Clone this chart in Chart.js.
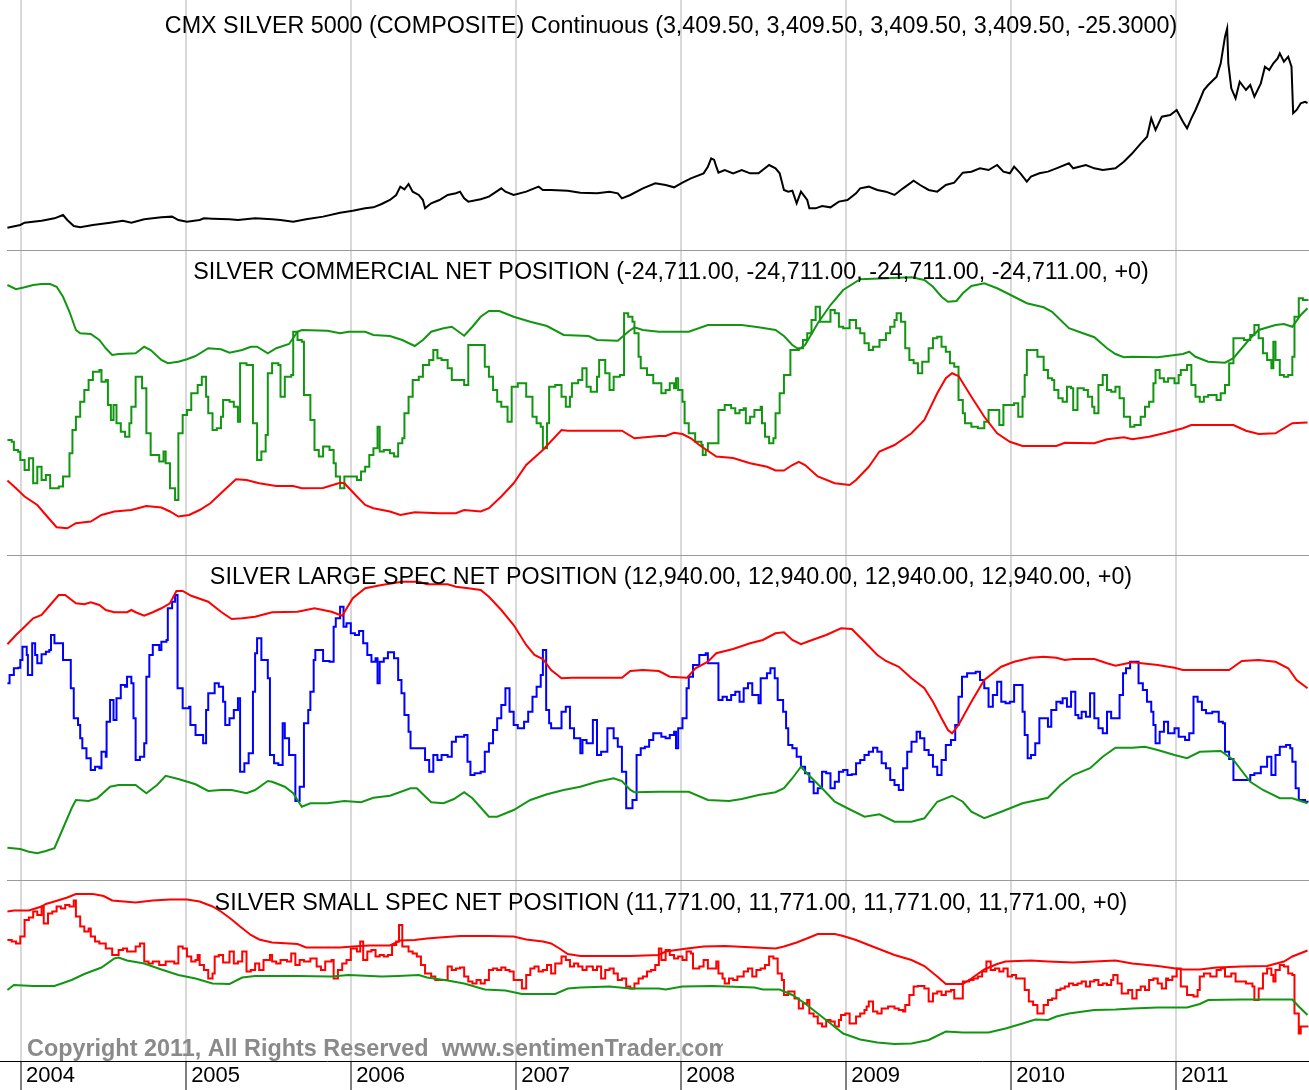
<!DOCTYPE html>
<html>
<head>
<meta charset="utf-8">
<script src="https://cdn.jsdelivr.net/npm/chart.js@4"></script>
<style>
  body { margin: 0; background: #fff; }
  #wrap { position: relative; width: 1309px; height: 1090px; overflow: hidden; }
  canvas { position: absolute; left: 0; }
  .sep { position: absolute; left: 7px; right: 0; height: 1px; background: #9a9a9a; z-index: 2; }
</style>
</head>
<body>
<div id="wrap">
  <canvas id="p1" width="1309" height="250" style="top:0"></canvas>
  <canvas id="p2" width="1309" height="305" style="top:250px"></canvas>
  <canvas id="p3" width="1309" height="325" style="top:555px"></canvas>
  <canvas id="p4" width="1309" height="210" style="top:880px"></canvas>
  <div class="sep" style="top:250px"></div>
  <div class="sep" style="top:555px"></div>
  <div class="sep" style="top:880px"></div>
</div>
<script>
// Axe des temps (années décimales)
const yearTicks = [2004, 2005, 2006, 2007, 2008, 2009, 2010, 2011];
const xMin = 2003.872;
const xMax = 2011.805;

// Titres des panneaux
const titles = [
    'CMX SILVER 5000 (COMPOSITE) Continuous (3,409.50, 3,409.50, 3,409.50, 3,409.50, -25.3000)',
    'SILVER COMMERCIAL NET POSITION (-24,711.00, -24,711.00, -24,711.00, -24,711.00, +0)',
    'SILVER LARGE SPEC NET POSITION (12,940.00, 12,940.00, 12,940.00, 12,940.00, +0)',
    'SILVER SMALL SPEC NET POSITION (11,771.00, 11,771.00, 11,771.00, 11,771.00, +0)'
];
const copyright = 'Copyright 2011, All Rights Reserved  www.sentimenTrader.com';

// Prix argent (cents) [année, valeur]
const silverPrice = [[2003.917,525],[2003.995,587],[2004.021,641],[2004.124,687],[2004.202,741],[2004.254,818],[2004.280,702],[2004.319,564],[2004.358,533],[2004.435,587],[2004.539,641],[2004.617,687],[2004.668,641],[2004.746,718],[2004.850,764],[2004.915,780],[2004.953,702],[2005.005,664],[2005.082,702],[2005.108,741],[2005.160,733],[2005.263,718],[2005.314,702],[2005.418,741],[2005.521,718],[2005.572,702],[2005.649,664],[2005.727,718],[2005.830,780],[2005.933,872],[2006.010,918],[2006.085,972],[2006.135,995],[2006.185,1073],[2006.235,1165],[2006.273,1281],[2006.298,1474],[2006.323,1412],[2006.348,1535],[2006.373,1358],[2006.410,1281],[2006.435,1165],[2006.448,972],[2006.485,1088],[2006.535,1165],[2006.585,1281],[2006.635,1320],[2006.660,1358],[2006.685,1204],[2006.710,1127],[2006.785,1181],[2006.835,1242],[2006.910,1435],[2006.935,1358],[2006.985,1281],[2007.061,1358],[2007.136,1474],[2007.162,1397],[2007.212,1397],[2007.313,1381],[2007.389,1335],[2007.490,1320],[2007.566,1358],[2007.616,1320],[2007.641,1204],[2007.692,1281],[2007.768,1435],[2007.843,1551],[2007.906,1512],[2007.957,1458],[2008.008,1566],[2008.059,1667],[2008.136,1782],[2008.162,1936],[2008.182,2129],[2008.200,2091],[2008.213,1936],[2008.226,1798],[2008.264,1859],[2008.315,1782],[2008.367,1859],[2008.418,1782],[2008.469,1782],[2008.533,1975],[2008.572,1898],[2008.597,1782],[2008.623,1397],[2008.649,1358],[2008.674,1381],[2008.700,1088],[2008.726,1358],[2008.764,1165],[2008.777,972],[2008.815,972],[2008.854,1026],[2008.905,995],[2008.956,1127],[2009.008,1165],[2009.060,1320],[2009.085,1435],[2009.137,1474],[2009.189,1397],[2009.241,1358],[2009.293,1281],[2009.345,1435],[2009.409,1613],[2009.448,1512],[2009.500,1397],[2009.552,1358],[2009.604,1512],[2009.655,1566],[2009.707,1798],[2009.759,1821],[2009.811,1898],[2009.863,1859],[2009.915,1975],[2009.953,1821],[2009.992,1782],[2010.018,1936],[2010.056,1782],[2010.095,1589],[2010.120,1705],[2010.171,1782],[2010.223,1821],[2010.274,1898],[2010.350,2014],[2010.376,1898],[2010.453,1975],[2010.504,1898],[2010.555,1859],[2010.632,1898],[2010.683,2052],[2010.734,2245],[2010.786,2476],[2010.824,2631],[2010.849,3055],[2010.875,2785],[2010.913,3093],[2010.964,3132],[2011.003,3248],[2011.041,2978],[2011.066,2823],[2011.092,3055],[2011.117,3248],[2011.143,3479],[2011.168,3710],[2011.194,3826],[2011.245,4019],[2011.270,4328],[2011.296,4945],[2011.309,5137],[2011.316,4328],[2011.334,3749],[2011.360,3518],[2011.385,3903],[2011.423,3710],[2011.449,3826],[2011.474,3556],[2011.513,3865],[2011.538,4250],[2011.564,4173],[2011.589,4328],[2011.615,4443],[2011.628,4559],[2011.653,4366],[2011.679,4482],[2011.699,4250],[2011.709,3171],[2011.730,3248],[2011.755,3402],[2011.781,3435],[2011.796,3409.5]];

// Commerciaux (milliers de contrats)
const commNet = [[2003.917,-81.0],[2003.943,-81.7],[2003.956,-85.0],[2003.982,-85.7],[2003.995,-89.0],[2004.021,-93.0],[2004.047,-88.3],[2004.073,-98.3],[2004.098,-91.7],[2004.124,-97.0],[2004.150,-95.0],[2004.176,-100.3],[2004.228,-99.6],[2004.254,-95.6],[2004.293,-86.3],[2004.311,-77.0],[2004.332,-71.7],[2004.358,-65.7],[2004.383,-61.0],[2004.409,-57.0],[2004.435,-53.7],[2004.474,-53.0],[2004.487,-57.7],[2004.513,-57.0],[2004.526,-67.0],[2004.544,-73.0],[2004.560,-67.0],[2004.578,-74.3],[2004.604,-77.7],[2004.630,-79.7],[2004.656,-74.3],[2004.668,-67.7],[2004.694,-55.7],[2004.733,-60.3],[2004.759,-78.3],[2004.785,-87.0],[2004.837,-89.6],[2004.863,-85.6],[2004.876,-90.3],[2004.902,-100.3],[2004.933,-105.0],[2004.953,-78.3],[2004.979,-71.0],[2005.005,-69.0],[2005.031,-62.3],[2005.070,-59.0],[2005.095,-55.7],[2005.121,-63.7],[2005.134,-70.3],[2005.160,-77.0],[2005.186,-76.3],[2005.211,-71.7],[2005.224,-65.0],[2005.263,-65.7],[2005.289,-67.7],[2005.314,-73.7],[2005.327,-50.3],[2005.366,-51.0],[2005.405,-74.3],[2005.430,-89.0],[2005.456,-85.6],[2005.482,-79.0],[2005.495,-54.3],[2005.521,-50.3],[2005.559,-51.0],[2005.572,-63.7],[2005.598,-55.7],[2005.637,-55.0],[2005.649,-37.7],[2005.675,-41.0],[2005.701,-41.7],[2005.714,-63.0],[2005.753,-73.0],[2005.778,-85.0],[2005.804,-87.6],[2005.830,-83.6],[2005.869,-85.0],[2005.894,-90.3],[2005.907,-95.6],[2005.933,-100.3],[2005.959,-95.6],[2006.035,-97.0],[2006.060,-93.6],[2006.085,-91.7],[2006.110,-87.0],[2006.135,-84.3],[2006.160,-75.7],[2006.173,-85.6],[2006.198,-85.0],[2006.235,-86.3],[2006.260,-87.6],[2006.285,-82.3],[2006.310,-80.3],[2006.323,-70.3],[2006.348,-63.7],[2006.373,-57.0],[2006.410,-55.7],[2006.435,-51.0],[2006.473,-49.0],[2006.498,-45.0],[2006.523,-48.3],[2006.548,-49.0],[2006.585,-52.3],[2006.610,-57.0],[2006.648,-57.0],[2006.685,-59.0],[2006.710,-43.0],[2006.785,-43.0],[2006.810,-51.7],[2006.835,-55.7],[2006.860,-61.0],[2006.885,-65.7],[2006.910,-67.7],[2006.948,-73.7],[2006.973,-59.7],[2007.010,-58.3],[2007.035,-58.3],[2007.061,-63.7],[2007.099,-71.7],[2007.124,-74.3],[2007.149,-75.7],[2007.162,-84.3],[2007.187,-74.3],[2007.200,-59.7],[2007.237,-59.0],[2007.275,-63.7],[2007.301,-67.7],[2007.326,-63.7],[2007.338,-58.3],[2007.376,-57.0],[2007.401,-52.3],[2007.427,-59.7],[2007.452,-61.7],[2007.490,-55.7],[2007.503,-49.0],[2007.540,-54.3],[2007.566,-61.0],[2007.591,-55.7],[2007.629,-55.0],[2007.654,-30.3],[2007.679,-31.7],[2007.705,-33.7],[2007.717,-38.3],[2007.742,-47.7],[2007.755,-52.3],[2007.793,-55.0],[2007.831,-58.3],[2007.880,-62.3],[2007.906,-61.0],[2007.931,-58.3],[2007.957,-60.3],[2007.969,-56.3],[2007.982,-61.0],[2008.008,-65.7],[2008.021,-74.3],[2008.046,-78.3],[2008.085,-81.7],[2008.123,-83.0],[2008.131,-87.0],[2008.149,-85.0],[2008.162,-82.3],[2008.213,-82.3],[2008.226,-69.0],[2008.264,-67.0],[2008.303,-68.3],[2008.328,-70.3],[2008.354,-69.0],[2008.379,-68.3],[2008.392,-74.3],[2008.418,-71.7],[2008.444,-69.0],[2008.482,-67.7],[2008.490,-74.3],[2008.508,-79.7],[2008.533,-82.3],[2008.559,-80.3],[2008.572,-70.3],[2008.597,-62.3],[2008.623,-55.0],[2008.662,-45.0],[2008.713,-44.3],[2008.738,-41.0],[2008.764,-38.3],[2008.790,-33.0],[2008.815,-27.7],[2008.841,-33.7],[2008.879,-33.7],[2008.905,-29.0],[2008.931,-30.3],[2008.956,-35.7],[2008.982,-36.3],[2009.021,-33.0],[2009.060,-36.3],[2009.085,-38.3],[2009.111,-42.3],[2009.137,-45.0],[2009.163,-43.7],[2009.202,-41.0],[2009.241,-38.3],[2009.267,-35.7],[2009.293,-33.0],[2009.306,-30.3],[2009.332,-33.7],[2009.358,-44.3],[2009.383,-49.0],[2009.409,-50.3],[2009.435,-54.3],[2009.461,-49.7],[2009.500,-44.3],[2009.526,-40.3],[2009.552,-39.7],[2009.578,-43.7],[2009.604,-45.7],[2009.629,-50.3],[2009.655,-51.7],[2009.681,-65.0],[2009.707,-70.3],[2009.720,-74.3],[2009.759,-75.7],[2009.798,-76.3],[2009.837,-73.7],[2009.863,-69.0],[2009.902,-69.0],[2009.928,-75.0],[2009.953,-67.0],[2010.018,-66.3],[2010.043,-71.7],[2010.069,-63.7],[2010.082,-55.0],[2010.095,-45.0],[2010.133,-45.0],[2010.159,-47.7],[2010.197,-53.0],[2010.223,-56.3],[2010.248,-57.0],[2010.261,-61.0],[2010.286,-64.3],[2010.312,-65.7],[2010.338,-59.7],[2010.363,-60.3],[2010.376,-69.0],[2010.402,-60.3],[2010.440,-61.0],[2010.465,-63.7],[2010.491,-67.7],[2010.504,-70.3],[2010.529,-59.0],[2010.555,-55.0],[2010.581,-61.0],[2010.606,-61.7],[2010.632,-59.7],[2010.657,-64.3],[2010.683,-71.7],[2010.721,-75.7],[2010.747,-75.0],[2010.785,-71.7],[2010.811,-67.7],[2010.836,-65.7],[2010.862,-58.3],[2010.875,-53.0],[2010.900,-56.3],[2010.926,-57.7],[2010.951,-56.3],[2010.990,-58.3],[2011.015,-55.0],[2011.028,-53.0],[2011.066,-51.0],[2011.092,-59.0],[2011.117,-63.7],[2011.143,-65.7],[2011.168,-63.7],[2011.194,-63.0],[2011.245,-65.0],[2011.270,-62.3],[2011.296,-59.0],[2011.321,-50.3],[2011.347,-40.3],[2011.385,-40.3],[2011.411,-41.0],[2011.449,-39.0],[2011.474,-35.0],[2011.500,-40.3],[2011.526,-46.3],[2011.551,-49.0],[2011.577,-52.3],[2011.589,-41.7],[2011.602,-49.0],[2011.628,-55.0],[2011.653,-55.7],[2011.679,-55.0],[2011.704,-47.7],[2011.717,-31.7],[2011.743,-24.3],[2011.768,-25.0],[2011.796,-24.711]];
const commUpper = [[2003.917,-19.0],[2003.969,-20.7],[2004.021,-19.9],[2004.073,-19.0],[2004.124,-18.6],[2004.176,-18.6],[2004.215,-19.7],[2004.254,-23.7],[2004.293,-29.7],[2004.332,-37.0],[2004.358,-38.3],[2004.422,-38.6],[2004.474,-41.0],[2004.513,-44.3],[2004.552,-47.0],[2004.591,-46.6],[2004.694,-46.3],[2004.746,-43.7],[2004.785,-45.0],[2004.850,-49.0],[2004.889,-50.3],[2004.953,-49.7],[2005.005,-48.7],[2005.057,-47.4],[2005.134,-44.3],[2005.211,-44.7],[2005.263,-46.1],[2005.340,-45.0],[2005.392,-43.7],[2005.430,-43.7],[2005.495,-46.3],[2005.546,-44.3],[2005.624,-42.6],[2005.675,-37.7],[2005.701,-37.0],[2005.856,-37.3],[2005.933,-38.3],[2005.985,-37.7],[2006.085,-37.7],[2006.135,-39.0],[2006.235,-39.4],[2006.310,-41.0],[2006.385,-43.4],[2006.435,-41.0],[2006.485,-37.7],[2006.560,-36.3],[2006.610,-35.7],[2006.685,-39.3],[2006.735,-35.7],[2006.785,-31.7],[2006.835,-29.4],[2006.898,-29.4],[2006.985,-31.7],[2007.086,-33.7],[2007.187,-35.4],[2007.288,-39.0],[2007.439,-39.4],[2007.490,-41.0],[2007.616,-41.3],[2007.679,-37.7],[2007.717,-35.9],[2007.768,-37.0],[2007.865,-37.7],[2008.046,-37.7],[2008.162,-35.0],[2008.367,-35.0],[2008.469,-35.9],[2008.572,-37.0],[2008.623,-39.4],[2008.674,-43.0],[2008.713,-44.7],[2008.751,-43.0],[2008.828,-34.3],[2008.905,-27.0],[2008.982,-21.0],[2009.085,-16.7],[2009.241,-16.3],[2009.397,-15.9],[2009.474,-17.0],[2009.526,-19.7],[2009.578,-23.7],[2009.617,-25.7],[2009.669,-25.4],[2009.707,-22.3],[2009.759,-19.4],[2009.837,-18.3],[2009.915,-20.3],[2010.018,-23.7],[2010.095,-26.3],[2010.197,-27.9],[2010.248,-29.7],[2010.350,-36.3],[2010.427,-38.1],[2010.504,-39.9],[2010.581,-44.3],[2010.632,-46.6],[2010.683,-47.9],[2010.734,-47.7],[2010.888,-47.9],[2011.041,-46.6],[2011.079,-45.7],[2011.117,-47.7],[2011.194,-49.7],[2011.296,-50.1],[2011.347,-48.3],[2011.449,-40.3],[2011.500,-37.0],[2011.602,-35.0],[2011.653,-34.6],[2011.704,-35.7],[2011.755,-31.0],[2011.796,-28.3]];
const commLower = [[2003.917,-97.2],[2003.969,-100.3],[2004.021,-103.6],[2004.098,-107.0],[2004.150,-111.0],[2004.215,-115.9],[2004.280,-116.3],[2004.332,-114.3],[2004.422,-113.6],[2004.487,-111.0],[2004.565,-109.6],[2004.668,-109.0],[2004.759,-107.4],[2004.850,-108.0],[2004.902,-109.6],[2004.953,-111.6],[2005.018,-111.0],[2005.082,-109.0],[2005.147,-106.3],[2005.211,-102.3],[2005.302,-96.7],[2005.366,-97.0],[2005.443,-98.3],[2005.546,-99.4],[2005.649,-99.4],[2005.701,-100.3],[2005.830,-100.2],[2005.933,-98.1],[2005.959,-98.3],[2006.035,-103.6],[2006.085,-107.0],[2006.135,-108.3],[2006.235,-109.6],[2006.298,-111.0],[2006.385,-109.9],[2006.535,-110.3],[2006.635,-110.3],[2006.685,-109.0],[2006.785,-109.6],[2006.835,-108.3],[2006.910,-103.6],[2006.985,-98.3],[2007.061,-91.0],[2007.162,-85.0],[2007.275,-77.0],[2007.313,-77.3],[2007.641,-77.3],[2007.717,-80.3],[2007.865,-79.4],[2007.906,-79.4],[2007.957,-78.1],[2008.008,-78.6],[2008.059,-80.3],[2008.110,-83.0],[2008.213,-87.6],[2008.315,-88.2],[2008.418,-90.3],[2008.521,-91.7],[2008.572,-93.2],[2008.623,-93.2],[2008.674,-91.0],[2008.713,-89.7],[2008.751,-91.0],[2008.828,-95.6],[2008.931,-98.3],[2009.021,-99.0],[2009.060,-97.0],[2009.137,-91.7],[2009.202,-85.6],[2009.293,-83.0],[2009.396,-78.3],[2009.474,-73.0],[2009.552,-62.3],[2009.604,-56.3],[2009.642,-54.3],[2009.681,-55.4],[2009.759,-63.7],[2009.837,-71.7],[2009.915,-78.3],[2009.992,-81.7],[2010.069,-83.4],[2010.274,-83.4],[2010.325,-82.1],[2010.504,-82.3],[2010.581,-80.7],[2010.683,-79.9],[2010.734,-80.7],[2010.836,-79.7],[2010.939,-78.1],[2011.041,-76.3],[2011.092,-75.0],[2011.347,-75.0],[2011.423,-77.3],[2011.500,-78.6],[2011.602,-78.3],[2011.704,-74.3],[2011.796,-74.0]];

// Grands spéculateurs (milliers de contrats)
const largeNet = [[2003.917,60.7],[2003.930,64.0],[2003.956,66.7],[2003.982,66.9],[2003.995,70.0],[2004.008,75.3],[2004.034,72.0],[2004.041,64.0],[2004.052,64.0],[2004.067,76.7],[2004.085,72.0],[2004.098,68.7],[2004.124,72.3],[2004.150,73.3],[2004.171,74.0],[2004.181,80.0],[2004.202,76.7],[2004.249,76.7],[2004.254,70.0],[2004.285,70.0],[2004.301,58.7],[2004.319,46.7],[2004.345,44.0],[2004.358,38.7],[2004.371,34.7],[2004.396,30.7],[2004.422,26.0],[2004.448,27.3],[2004.474,26.7],[2004.487,33.3],[2004.513,31.3],[2004.518,45.3],[2004.539,54.0],[2004.560,46.0],[2004.578,54.7],[2004.604,60.0],[2004.630,59.3],[2004.642,63.3],[2004.668,60.7],[2004.681,46.7],[2004.694,30.0],[2004.720,31.3],[2004.746,36.7],[2004.759,63.3],[2004.777,72.0],[2004.798,76.0],[2004.837,74.0],[2004.850,77.3],[2004.881,78.0],[2004.889,90.7],[2004.915,93.3],[2004.933,96.0],[2004.948,58.7],[2004.979,50.7],[2005.018,51.3],[2005.026,44.0],[2005.057,40.0],[2005.103,36.7],[2005.121,50.0],[2005.134,56.7],[2005.173,60.7],[2005.198,59.3],[2005.224,53.3],[2005.237,44.0],[2005.263,46.7],[2005.289,50.0],[2005.314,54.7],[2005.327,25.3],[2005.353,28.7],[2005.379,32.7],[2005.405,57.3],[2005.418,72.7],[2005.430,78.7],[2005.456,70.0],[2005.495,62.7],[2005.508,32.0],[2005.533,28.7],[2005.559,28.0],[2005.585,44.7],[2005.598,38.7],[2005.624,32.0],[2005.649,32.0],[2005.662,13.6],[2005.688,19.3],[2005.714,44.7],[2005.740,50.0],[2005.753,57.3],[2005.773,70.0],[2005.783,74.0],[2005.817,74.0],[2005.830,69.6],[2005.869,69.3],[2005.894,83.3],[2005.907,86.7],[2005.933,91.3],[2005.954,83.3],[2005.972,84.7],[2005.998,80.7],[2006.023,80.0],[2006.048,81.6],[2006.073,76.7],[2006.098,72.0],[2006.123,69.3],[2006.148,70.7],[2006.160,60.7],[2006.173,69.3],[2006.198,70.7],[2006.223,73.1],[2006.260,70.7],[2006.285,62.0],[2006.305,56.7],[2006.323,48.0],[2006.348,41.3],[2006.360,34.7],[2006.423,34.7],[2006.448,30.0],[2006.473,25.3],[2006.498,32.0],[2006.523,30.0],[2006.548,32.0],[2006.585,31.3],[2006.610,37.3],[2006.635,39.3],[2006.685,40.0],[2006.705,29.3],[2006.723,24.0],[2006.748,24.7],[2006.785,25.3],[2006.810,33.3],[2006.835,36.7],[2006.860,42.0],[2006.885,46.7],[2006.910,52.0],[2006.935,58.7],[2006.960,49.3],[2006.985,44.0],[2007.010,42.7],[2007.048,45.3],[2007.073,49.3],[2007.099,55.3],[2007.124,59.3],[2007.149,64.0],[2007.162,74.0],[2007.182,50.0],[2007.200,44.7],[2007.212,42.7],[2007.250,42.7],[2007.275,49.3],[2007.301,51.3],[2007.326,42.7],[2007.351,38.7],[2007.389,32.7],[2007.402,38.0],[2007.427,36.7],[2007.465,46.0],[2007.490,32.0],[2007.515,33.3],[2007.553,42.7],[2007.591,38.7],[2007.616,35.3],[2007.641,25.3],[2007.667,10.7],[2007.705,14.0],[2007.730,32.0],[2007.755,34.7],[2007.780,35.3],[2007.806,38.0],[2007.831,40.7],[2007.880,39.3],[2007.906,38.7],[2007.931,40.0],[2007.957,41.3],[2007.969,34.7],[2007.982,42.7],[2008.008,46.7],[2008.033,58.7],[2008.046,63.3],[2008.072,68.0],[2008.110,72.0],[2008.149,72.7],[2008.162,68.7],[2008.200,68.7],[2008.226,54.0],[2008.251,55.3],[2008.277,54.0],[2008.303,56.0],[2008.328,57.3],[2008.354,53.3],[2008.379,58.7],[2008.405,60.7],[2008.431,56.0],[2008.469,52.7],[2008.482,62.7],[2008.520,64.7],[2008.541,66.7],[2008.567,62.7],[2008.585,54.0],[2008.618,49.3],[2008.636,42.7],[2008.649,36.0],[2008.674,34.7],[2008.700,31.3],[2008.726,27.3],[2008.751,24.7],[2008.777,21.3],[2008.803,16.7],[2008.828,18.7],[2008.854,25.3],[2008.879,24.7],[2008.905,18.7],[2008.931,21.3],[2008.956,25.3],[2008.982,26.0],[2009.008,24.0],[2009.034,24.3],[2009.060,28.7],[2009.085,30.0],[2009.111,32.0],[2009.137,33.3],[2009.163,34.9],[2009.189,33.3],[2009.215,28.7],[2009.241,26.7],[2009.267,22.0],[2009.293,20.0],[2009.319,18.0],[2009.345,26.7],[2009.370,33.3],[2009.396,37.3],[2009.427,41.3],[2009.448,38.7],[2009.474,34.0],[2009.500,32.0],[2009.526,27.3],[2009.552,24.0],[2009.578,30.0],[2009.604,36.0],[2009.635,38.0],[2009.661,44.0],[2009.681,55.3],[2009.702,63.3],[2009.733,64.7],[2009.785,65.3],[2009.811,62.0],[2009.837,58.7],[2009.863,51.3],[2009.889,56.0],[2009.915,61.3],[2009.940,53.3],[2009.966,52.7],[2009.992,53.3],[2010.018,60.0],[2010.056,60.0],[2010.069,49.3],[2010.082,40.0],[2010.100,30.7],[2010.120,32.0],[2010.146,36.7],[2010.171,46.7],[2010.210,46.7],[2010.223,43.3],[2010.243,50.0],[2010.274,53.3],[2010.299,52.7],[2010.312,54.7],[2010.338,51.3],[2010.363,57.3],[2010.389,48.0],[2010.407,46.7],[2010.427,49.3],[2010.453,47.3],[2010.478,56.7],[2010.504,46.7],[2010.529,42.7],[2010.555,40.7],[2010.581,49.3],[2010.606,46.7],[2010.645,46.7],[2010.657,56.0],[2010.678,64.7],[2010.696,66.7],[2010.721,69.3],[2010.747,69.3],[2010.772,60.7],[2010.798,58.0],[2010.823,53.3],[2010.849,49.3],[2010.862,44.0],[2010.875,36.7],[2010.900,41.3],[2010.926,45.3],[2010.951,40.7],[2010.990,42.7],[2011.015,39.3],[2011.054,38.0],[2011.079,40.7],[2011.105,55.3],[2011.130,53.3],[2011.156,50.0],[2011.181,48.7],[2011.219,49.3],[2011.258,45.3],[2011.283,44.7],[2011.296,33.3],[2011.321,30.4],[2011.347,22.0],[2011.411,22.0],[2011.449,24.0],[2011.474,24.7],[2011.513,27.3],[2011.551,31.3],[2011.577,24.0],[2011.602,32.0],[2011.628,35.3],[2011.666,36.0],[2011.691,34.7],[2011.704,29.3],[2011.724,18.7],[2011.743,14.0],[2011.781,13.3],[2011.796,12.94]];
const largeUpper = [[2003.917,76.3],[2003.969,80.0],[2004.021,83.3],[2004.073,86.7],[2004.124,88.0],[2004.176,92.0],[2004.228,96.0],[2004.267,96.0],[2004.332,92.7],[2004.383,92.3],[2004.422,93.1],[2004.474,92.0],[2004.513,90.0],[2004.565,89.1],[2004.642,89.1],[2004.668,90.0],[2004.694,89.1],[2004.746,87.7],[2004.798,89.1],[2004.850,90.7],[2004.902,92.7],[2004.941,97.6],[2004.979,97.6],[2005.031,95.7],[2005.134,93.3],[2005.211,89.3],[2005.276,86.4],[2005.340,86.7],[2005.418,87.3],[2005.521,89.1],[2005.675,89.3],[2005.778,90.7],[2005.830,90.0],[2005.881,89.3],[2005.946,87.7],[2006.010,94.7],[2006.085,98.7],[2006.185,100.0],[2006.310,101.3],[2006.410,101.3],[2006.460,100.3],[2006.585,100.3],[2006.635,99.3],[2006.710,98.7],[2006.785,98.0],[2006.835,95.3],[2006.910,90.0],[2006.985,84.0],[2007.061,76.0],[2007.111,72.0],[2007.162,70.4],[2007.212,66.0],[2007.275,62.7],[2007.338,62.9],[2007.641,62.9],[2007.692,65.6],[2007.768,66.0],[2007.865,65.6],[2007.931,63.3],[2008.036,62.9],[2008.087,66.7],[2008.162,69.3],[2008.213,72.7],[2008.315,74.4],[2008.418,76.7],[2008.495,78.0],[2008.572,80.7],[2008.623,81.1],[2008.674,78.0],[2008.726,76.3],[2008.777,77.6],[2008.879,80.0],[2008.969,82.7],[2009.034,82.4],[2009.111,77.3],[2009.189,72.0],[2009.241,69.6],[2009.319,67.3],[2009.396,62.7],[2009.474,58.7],[2009.526,53.3],[2009.578,46.7],[2009.617,42.0],[2009.642,40.7],[2009.681,44.0],[2009.759,53.3],[2009.837,62.0],[2009.940,67.3],[2010.018,69.3],[2010.120,70.9],[2010.197,71.3],[2010.274,70.9],[2010.325,70.0],[2010.376,70.4],[2010.504,70.4],[2010.581,68.7],[2010.632,67.7],[2010.734,69.1],[2010.888,68.0],[2010.990,66.9],[2011.041,66.0],[2011.321,66.0],[2011.398,69.6],[2011.500,70.0],[2011.602,69.3],[2011.679,66.7],[2011.730,62.0],[2011.796,58.7]];
const largeLower = [[2003.917,-5.1],[2003.995,-5.6],[2004.047,-6.7],[2004.098,-7.3],[2004.150,-6.4],[2004.202,-5.3],[2004.254,2.7],[2004.306,10.7],[2004.332,14.0],[2004.409,13.6],[2004.461,14.7],[2004.539,19.3],[2004.591,20.0],[2004.694,20.0],[2004.759,16.7],[2004.824,20.0],[2004.876,23.7],[2004.953,22.4],[2005.057,20.3],[2005.134,17.6],[2005.211,18.0],[2005.276,18.0],[2005.366,16.7],[2005.418,18.0],[2005.495,21.6],[2005.521,21.3],[2005.598,19.3],[2005.649,16.7],[2005.701,11.3],[2005.753,12.7],[2005.856,12.7],[2005.959,13.6],[2006.060,13.1],[2006.135,14.9],[2006.235,15.7],[2006.360,18.7],[2006.398,18.7],[2006.485,13.1],[2006.560,12.7],[2006.623,14.4],[2006.685,17.1],[2006.735,14.7],[2006.835,7.3],[2006.885,7.3],[2006.985,10.0],[2007.086,14.0],[2007.187,16.3],[2007.288,18.0],[2007.389,19.3],[2007.490,21.3],[2007.591,22.7],[2007.641,21.6],[2007.692,18.0],[2007.717,17.1],[2007.865,17.3],[2008.046,17.3],[2008.162,14.0],[2008.290,13.6],[2008.367,14.4],[2008.469,16.0],[2008.572,17.1],[2008.623,18.7],[2008.674,22.7],[2008.726,27.3],[2008.777,23.7],[2008.854,18.7],[2008.931,13.3],[2009.008,10.7],[2009.111,7.3],[2009.202,8.3],[2009.293,5.3],[2009.396,5.3],[2009.474,6.7],[2009.552,13.3],[2009.642,15.7],[2009.707,13.3],[2009.759,9.3],[2009.837,6.7],[2009.940,9.3],[2010.069,12.7],[2010.223,14.9],[2010.299,20.0],[2010.376,24.0],[2010.478,26.7],[2010.555,31.3],[2010.632,34.9],[2010.734,34.9],[2010.811,35.3],[2010.888,34.0],[2010.990,32.0],[2011.066,30.7],[2011.143,33.3],[2011.270,33.6],[2011.347,30.0],[2011.449,21.3],[2011.526,18.0],[2011.628,14.7],[2011.704,14.7],[2011.796,12.7]];

// Petits spéculateurs (milliers de contrats)
const smallNet = [[2003.917,29.2],[2003.943,28.9],[2003.969,28.5],[2003.995,29.9],[2004.021,33.2],[2004.047,33.7],[2004.073,34.9],[2004.098,34.2],[2004.124,35.9],[2004.137,32.5],[2004.163,34.5],[2004.189,34.9],[2004.215,35.9],[2004.241,35.5],[2004.267,36.2],[2004.293,35.9],[2004.319,37.1],[2004.332,33.9],[2004.358,31.9],[2004.383,30.9],[2004.409,31.5],[2004.422,29.9],[2004.448,28.9],[2004.474,28.5],[2004.513,27.5],[2004.552,26.2],[2004.591,27.2],[2004.617,27.5],[2004.642,26.9],[2004.694,27.9],[2004.720,28.5],[2004.746,24.9],[2004.772,24.5],[2004.798,24.9],[2004.837,24.2],[2004.876,24.9],[2004.928,24.5],[2004.953,27.9],[2004.979,27.5],[2005.005,25.9],[2005.031,24.9],[2005.057,25.2],[2005.070,26.2],[2005.082,24.2],[2005.108,23.2],[2005.134,21.5],[2005.160,22.5],[2005.173,25.9],[2005.198,26.2],[2005.224,24.7],[2005.263,26.9],[2005.289,24.5],[2005.314,24.9],[2005.340,26.9],[2005.366,22.9],[2005.392,23.2],[2005.418,24.5],[2005.443,23.2],[2005.469,25.2],[2005.508,26.2],[2005.521,24.9],[2005.546,24.5],[2005.572,25.2],[2005.611,24.9],[2005.637,26.5],[2005.662,24.2],[2005.688,25.2],[2005.714,24.9],[2005.753,25.5],[2005.791,23.9],[2005.817,23.2],[2005.843,24.9],[2005.881,25.2],[2005.894,21.5],[2005.920,23.2],[2005.946,24.5],[2005.972,25.2],[2005.998,27.5],[2006.035,26.9],[2006.055,28.9],[2006.073,25.2],[2006.098,26.9],[2006.123,27.2],[2006.148,25.9],[2006.173,26.2],[2006.198,25.9],[2006.223,26.2],[2006.248,28.2],[2006.273,28.9],[2006.290,32.2],[2006.310,27.9],[2006.348,26.9],[2006.373,26.5],[2006.398,25.9],[2006.423,24.2],[2006.448,22.5],[2006.485,21.9],[2006.510,21.2],[2006.535,21.2],[2006.585,23.9],[2006.610,23.2],[2006.635,23.5],[2006.660,23.7],[2006.685,21.9],[2006.710,20.9],[2006.735,20.5],[2006.760,21.2],[2006.785,20.5],[2006.810,21.2],[2006.835,23.2],[2006.860,23.5],[2006.885,23.2],[2006.910,23.7],[2006.935,23.2],[2006.960,22.9],[2006.985,21.2],[2007.010,21.2],[2007.035,19.5],[2007.061,22.2],[2007.086,23.5],[2007.111,23.9],[2007.136,22.9],[2007.162,23.2],[2007.187,24.2],[2007.212,22.5],[2007.237,24.5],[2007.275,25.9],[2007.301,25.2],[2007.326,23.9],[2007.351,24.5],[2007.376,23.9],[2007.402,23.2],[2007.427,23.9],[2007.465,23.2],[2007.490,23.9],[2007.515,21.5],[2007.540,23.2],[2007.566,23.5],[2007.591,22.5],[2007.616,21.2],[2007.641,21.5],[2007.667,19.9],[2007.692,19.5],[2007.717,20.5],[2007.742,21.5],[2007.768,21.9],[2007.793,22.9],[2007.818,23.2],[2007.843,24.2],[2007.865,27.5],[2007.880,25.2],[2007.906,27.2],[2007.931,26.2],[2007.957,25.5],[2007.982,25.9],[2008.008,25.2],[2008.033,26.9],[2008.059,26.5],[2008.072,23.5],[2008.110,23.9],[2008.136,25.2],[2008.162,23.5],[2008.187,23.5],[2008.213,24.9],[2008.226,22.5],[2008.251,21.5],[2008.264,20.5],[2008.290,21.5],[2008.315,21.2],[2008.341,21.9],[2008.379,22.9],[2008.405,23.5],[2008.431,21.9],[2008.456,23.2],[2008.482,23.5],[2008.508,24.2],[2008.533,25.9],[2008.559,25.5],[2008.585,22.5],[2008.610,21.2],[2008.623,18.2],[2008.649,18.9],[2008.687,17.5],[2008.713,15.5],[2008.738,16.5],[2008.764,17.2],[2008.777,14.5],[2008.803,13.9],[2008.828,12.5],[2008.854,11.9],[2008.879,13.2],[2008.905,12.9],[2008.931,11.9],[2008.956,13.2],[2008.969,14.2],[2008.995,14.5],[2009.021,12.5],[2009.060,13.9],[2009.085,14.5],[2009.111,15.2],[2009.124,15.9],[2009.137,16.9],[2009.163,14.9],[2009.189,14.5],[2009.215,15.5],[2009.254,15.9],[2009.293,15.5],[2009.319,15.2],[2009.345,14.9],[2009.358,16.2],[2009.383,18.2],[2009.409,19.9],[2009.435,20.0],[2009.474,19.5],[2009.500,16.9],[2009.526,18.5],[2009.552,18.9],[2009.578,18.2],[2009.604,18.9],[2009.635,19.2],[2009.655,17.5],[2009.681,17.5],[2009.707,20.9],[2009.746,21.2],[2009.772,21.5],[2009.798,21.9],[2009.824,22.9],[2009.850,24.9],[2009.876,23.2],[2009.902,23.5],[2009.928,22.9],[2009.953,23.5],[2009.979,21.9],[2010.005,22.2],[2010.030,21.5],[2010.056,21.5],[2010.082,19.2],[2010.107,16.9],[2010.133,16.2],[2010.159,14.5],[2010.184,14.5],[2010.197,16.2],[2010.223,17.2],[2010.248,17.5],[2010.274,19.2],[2010.299,19.5],[2010.325,19.9],[2010.350,20.5],[2010.376,20.2],[2010.402,20.5],[2010.427,20.9],[2010.453,19.9],[2010.478,20.9],[2010.504,21.2],[2010.529,20.2],[2010.555,20.5],[2010.581,20.2],[2010.606,21.2],[2010.619,22.2],[2010.645,20.5],[2010.670,18.5],[2010.709,19.2],[2010.734,17.5],[2010.760,19.2],[2010.785,19.9],[2010.811,19.2],[2010.836,21.2],[2010.862,21.5],[2010.888,20.5],[2010.913,19.5],[2010.939,21.5],[2010.951,21.2],[2010.977,21.9],[2011.003,23.5],[2011.028,19.9],[2011.066,18.2],[2011.105,17.9],[2011.130,19.2],[2011.143,21.9],[2011.168,22.5],[2011.207,21.9],[2011.245,23.2],[2011.270,23.5],[2011.296,21.9],[2011.334,22.5],[2011.360,20.9],[2011.385,20.9],[2011.423,20.5],[2011.462,19.9],[2011.474,17.2],[2011.500,19.5],[2011.526,22.5],[2011.551,23.5],[2011.577,22.2],[2011.589,20.9],[2011.602,23.2],[2011.628,24.2],[2011.653,23.9],[2011.679,22.5],[2011.704,22.2],[2011.717,14.5],[2011.743,10.5],[2011.755,11.9],[2011.781,11.9],[2011.796,11.771]];
const smallUpper = [[2003.917,34.9],[2003.956,35.1],[2004.047,35.1],[2004.124,35.9],[2004.150,36.4],[2004.202,36.9],[2004.280,37.7],[2004.332,38.4],[2004.435,38.4],[2004.500,38.0],[2004.552,37.1],[2004.694,36.7],[2004.798,37.1],[2004.902,37.3],[2005.005,37.3],[2005.082,36.9],[2005.160,35.9],[2005.211,34.9],[2005.276,33.3],[2005.327,31.9],[2005.392,30.2],[2005.443,29.3],[2005.521,28.7],[2005.675,28.4],[2005.727,27.7],[2005.933,27.7],[2006.010,27.9],[2006.110,28.1],[2006.235,28.1],[2006.298,29.1],[2006.385,29.2],[2006.460,29.5],[2006.535,29.7],[2006.660,30.0],[2006.835,30.0],[2006.985,29.9],[2007.061,29.3],[2007.162,28.9],[2007.212,28.5],[2007.263,27.5],[2007.313,26.4],[2007.389,26.0],[2007.692,26.0],[2007.865,26.2],[2007.906,26.9],[2008.036,27.5],[2008.136,27.9],[2008.264,28.0],[2008.572,27.5],[2008.623,27.9],[2008.700,28.7],[2008.777,29.7],[2008.828,30.4],[2008.931,30.4],[2008.982,30.0],[2009.060,29.2],[2009.137,28.2],[2009.215,27.2],[2009.293,26.2],[2009.396,25.2],[2009.474,24.0],[2009.552,21.9],[2009.604,20.4],[2009.707,20.4],[2009.759,21.5],[2009.837,23.3],[2009.915,24.4],[2009.966,24.9],[2010.120,25.1],[2010.223,24.9],[2010.376,24.7],[2010.632,25.1],[2010.734,24.5],[2010.888,24.0],[2011.041,23.3],[2011.143,23.3],[2011.245,23.7],[2011.398,23.9],[2011.551,24.0],[2011.653,24.9],[2011.704,25.9],[2011.796,27.1]];
const smallLower = [[2003.917,19.2],[2003.956,20.2],[2004.073,20.0],[2004.202,20.0],[2004.306,21.2],[2004.383,22.4],[2004.487,23.7],[2004.565,25.5],[2004.591,25.7],[2004.642,25.1],[2004.746,24.5],[2004.850,23.3],[2004.953,22.2],[2005.057,21.5],[2005.160,20.5],[2005.263,20.4],[2005.340,21.7],[2005.418,22.0],[2005.675,22.0],[2005.881,21.9],[2005.985,22.2],[2006.185,21.9],[2006.285,22.0],[2006.410,22.2],[2006.460,21.7],[2006.585,21.1],[2006.685,20.5],[2006.810,19.3],[2006.935,19.1],[2007.035,18.4],[2007.237,18.4],[2007.313,19.5],[2007.389,19.7],[2007.566,19.9],[2007.692,19.5],[2007.865,19.5],[2007.906,19.3],[2008.008,19.9],[2008.190,20.0],[2008.444,19.7],[2008.495,19.3],[2008.597,19.3],[2008.674,18.2],[2008.751,16.5],[2008.828,14.5],[2008.905,12.5],[2008.982,10.5],[2009.085,9.3],[2009.189,8.7],[2009.293,8.4],[2009.396,8.5],[2009.500,9.2],[2009.604,10.9],[2009.707,10.7],[2009.863,10.7],[2009.966,11.5],[2010.069,12.5],[2010.146,13.3],[2010.223,13.2],[2010.274,13.9],[2010.350,14.5],[2010.504,15.2],[2010.632,15.3],[2010.734,15.5],[2010.888,15.7],[2011.066,15.7],[2011.143,16.4],[2011.194,17.2],[2011.398,17.3],[2011.704,17.3],[2011.743,15.9],[2011.796,14.2]];

// Couleurs
const GREEN = '#129612';
const RED = '#ff0000';
const BLUE = '#0000ff';

const toXY = arr => arr.map(p => ({ x: p[0], y: p[1] }));

function serie(points, color, stepped) {
    return {
        data: toXY(points),
        borderColor: color,
        borderWidth: 2,
        pointRadius: 0,
        stepped: stepped ? 'before' : false,
        tension: 0
    };
}

// Textes dessinés sur le panneau (titre + copyright)
const panelText = {
    id: 'panelText',
    afterDatasetsDraw(chart, args, opts) {
        const ctx = chart.ctx;
        ctx.save();
        ctx.font = '23.3px "Liberation Sans", Arial, sans-serif';
        ctx.fillStyle = '#000';
        ctx.textAlign = 'center';
        ctx.textBaseline = 'middle';
        ctx.fillText(opts.text, opts.x, opts.y);
        if (opts.note) {
            ctx.beginPath();
            ctx.rect(0, 0, 723, chart.height);
            ctx.clip();
            ctx.font = 'bold 23.4px "Liberation Sans", Arial, sans-serif';
            ctx.fillStyle = '#8a8a8a';
            ctx.textAlign = 'left';
            ctx.textBaseline = 'alphabetic';
            ctx.fillText(opts.note, 27, 176);
        }
        ctx.restore();
    }
};

function makePanel(id, datasets, yMin, yMax, title, titleY, bottom) {
    return new Chart(document.getElementById(id), {
        type: 'line',
        data: { datasets: datasets },
        options: {
            responsive: false,
            animation: false,
            devicePixelRatio: 1,
            events: [],
            layout: { padding: 0 },
            scales: {
                x: {
                    type: 'linear',
                    min: xMin,
                    max: xMax,
                    afterBuildTicks: s => { s.ticks = yearTicks.map(v => ({ value: v })); },
                    afterFit: s => { s.height = bottom ? 29 : 0; },
                    grid: {
                        color: '#d9d9d9',
                        lineWidth: 2,
                        drawTicks: bottom,
                        tickLength: 29,
                        tickColor: '#000',
                        tickWidth: 1
                    },
                    border: { display: bottom, color: '#000', width: 1 },
                    ticks: {
                        display: bottom,
                        align: 'start',
                        labelOffset: 5,
                        padding: -27,
                        maxRotation: 0,
                        autoSkip: false,
                        color: '#000',
                        font: { family: '"Liberation Sans", Arial, sans-serif', size: 22 },
                        callback: v => String(v)
                    }
                },
                y: { display: false, min: yMin, max: yMax }
            },
            plugins: {
                legend: { display: false },
                tooltip: { enabled: false },
                panelText: { text: title, x: 671, y: titleY, note: bottom ? copyright : null }
            }
        },
        plugins: [panelText]
    });
}

makePanel('p1', [serie(silverPrice, '#000', false)], 8, 5793, titles[0], 27, false);
makePanel('p2', [serie(commUpper, GREEN, false), serie(commLower, RED, false), serie(commNet, GREEN, true)], -127, -5, titles[1], 23, false);
makePanel('p3', [serie(largeUpper, RED, false), serie(largeLower, GREEN, false), serie(largeNet, BLUE, true)], -18, 112, titles[2], 23, false);
makePanel('p4', [serie(smallUpper, RED, false), serie(smallLower, GREEN, false), serie(smallNet, RED, true)], 5, 41.2, titles[3], 24, true);
</script>
</body>
</html>
